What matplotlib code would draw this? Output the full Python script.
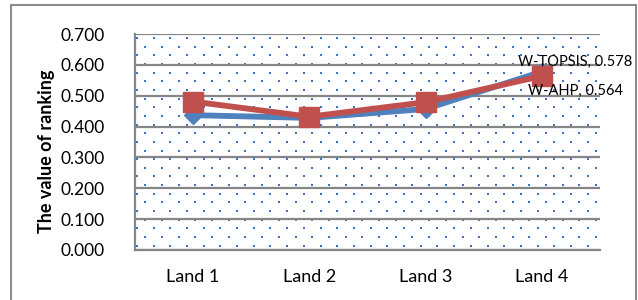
import numpy as np
import matplotlib
matplotlib.use("Agg")
import matplotlib.pyplot as plt
from matplotlib.patches import Rectangle

categories = ["Land 1", "Land 2", "Land 3", "Land 4"]
w_topsis = [0.437, 0.428, 0.457, 0.578]
w_ahp = [0.481, 0.432, 0.479, 0.564]
yticks = [0.0, 0.1, 0.2, 0.3, 0.4, 0.5, 0.6, 0.7]

plt.rcParams['font.family'] = ['Lato', 'DejaVu Sans']

W, H = 638, 300
fig = plt.figure(figsize=(W / 100, H / 100), dpi=100)

# outer chart border
fig.patches.append(Rectangle((11 / W, -0.05), (636 - 11) / W, 1.05 - 5 / H,
                             transform=fig.transFigure, fill=False,
                             edgecolor='#8c8c8c', linewidth=1.5))

ax = fig.add_axes([135 / W, 1 - 250 / H, (600 - 135) / W, (250 - 34) / H])
ax.set_facecolor('white')

# dotted background pattern
nx, ny = 28, 25
px = 16.7 / 465
py = 8.65 / 216
pts_x, pts_y = [], []
for j in range(ny):
    off = 0.5 * px if j % 2 else 0.0
    for i in range(nx):
        xx = 0.004 + off + i * px
        yy = 0.02 + j * py
        if xx < 0.998 and yy < 0.998:
            pts_x.append(xx)
            pts_y.append(yy)
ax.scatter(pts_x, pts_y, s=2.0, marker='s', color='#3f72c4', linewidths=0,
           transform=ax.transAxes, zorder=0.5)

x = np.arange(len(categories))
ax.plot(x, w_topsis, color='#4f81bd', linewidth=4.2, marker='D',
        markersize=9.5, markerfacecolor='#4f81bd', markeredgecolor='#4f81bd',
        zorder=3, solid_joinstyle='miter')
ax.plot(x, w_ahp, color='#c0504d', linewidth=4.2, marker='s',
        markersize=14.5, markerfacecolor='#c0504d', markeredgecolor='#c0504d',
        zorder=4, solid_joinstyle='miter')

ax.set_xlim(-0.5, len(categories) - 0.5)
ax.set_ylim(0, 0.7)
ax.set_yticks(yticks)
ax.set_yticklabels([f"{v:.3f}" for v in yticks], fontsize=12.5)
ax.set_xticks(x)
ax.set_xticklabels(categories, fontsize=13)
ax.tick_params(axis='both', length=0, colors='black')
ax.tick_params(axis='y', pad=22)
ax.tick_params(axis='x', pad=14)

ax.yaxis.grid(True, color='#868686', linewidth=1.6)
ax.set_axisbelow(False)
for s in ['top', 'right']:
    ax.spines[s].set_visible(False)
for s in ['left', 'bottom']:
    ax.spines[s].set_color('#868686')
    ax.spines[s].set_linewidth(1.6)

ax.set_ylabel("The value of ranking", fontsize=13, fontweight='bold')
ax.yaxis.set_label_coords(-0.172, 0.456)

ax.annotate(f"W-TOPSIS, {w_topsis[3]:.3f}", xy=(x[3], w_topsis[3]),
            xytext=(24, 7), textcoords='offset points', ha='center', va='center',
            fontsize=10.5, zorder=5)
ax.annotate(f"W-AHP, {w_ahp[3]:.3f}", xy=(x[3], w_ahp[3]),
            xytext=(24, -10.5), textcoords='offset points', ha='center', va='center',
            fontsize=10.5, zorder=5)

fig.savefig("out.png", dpi=100)
